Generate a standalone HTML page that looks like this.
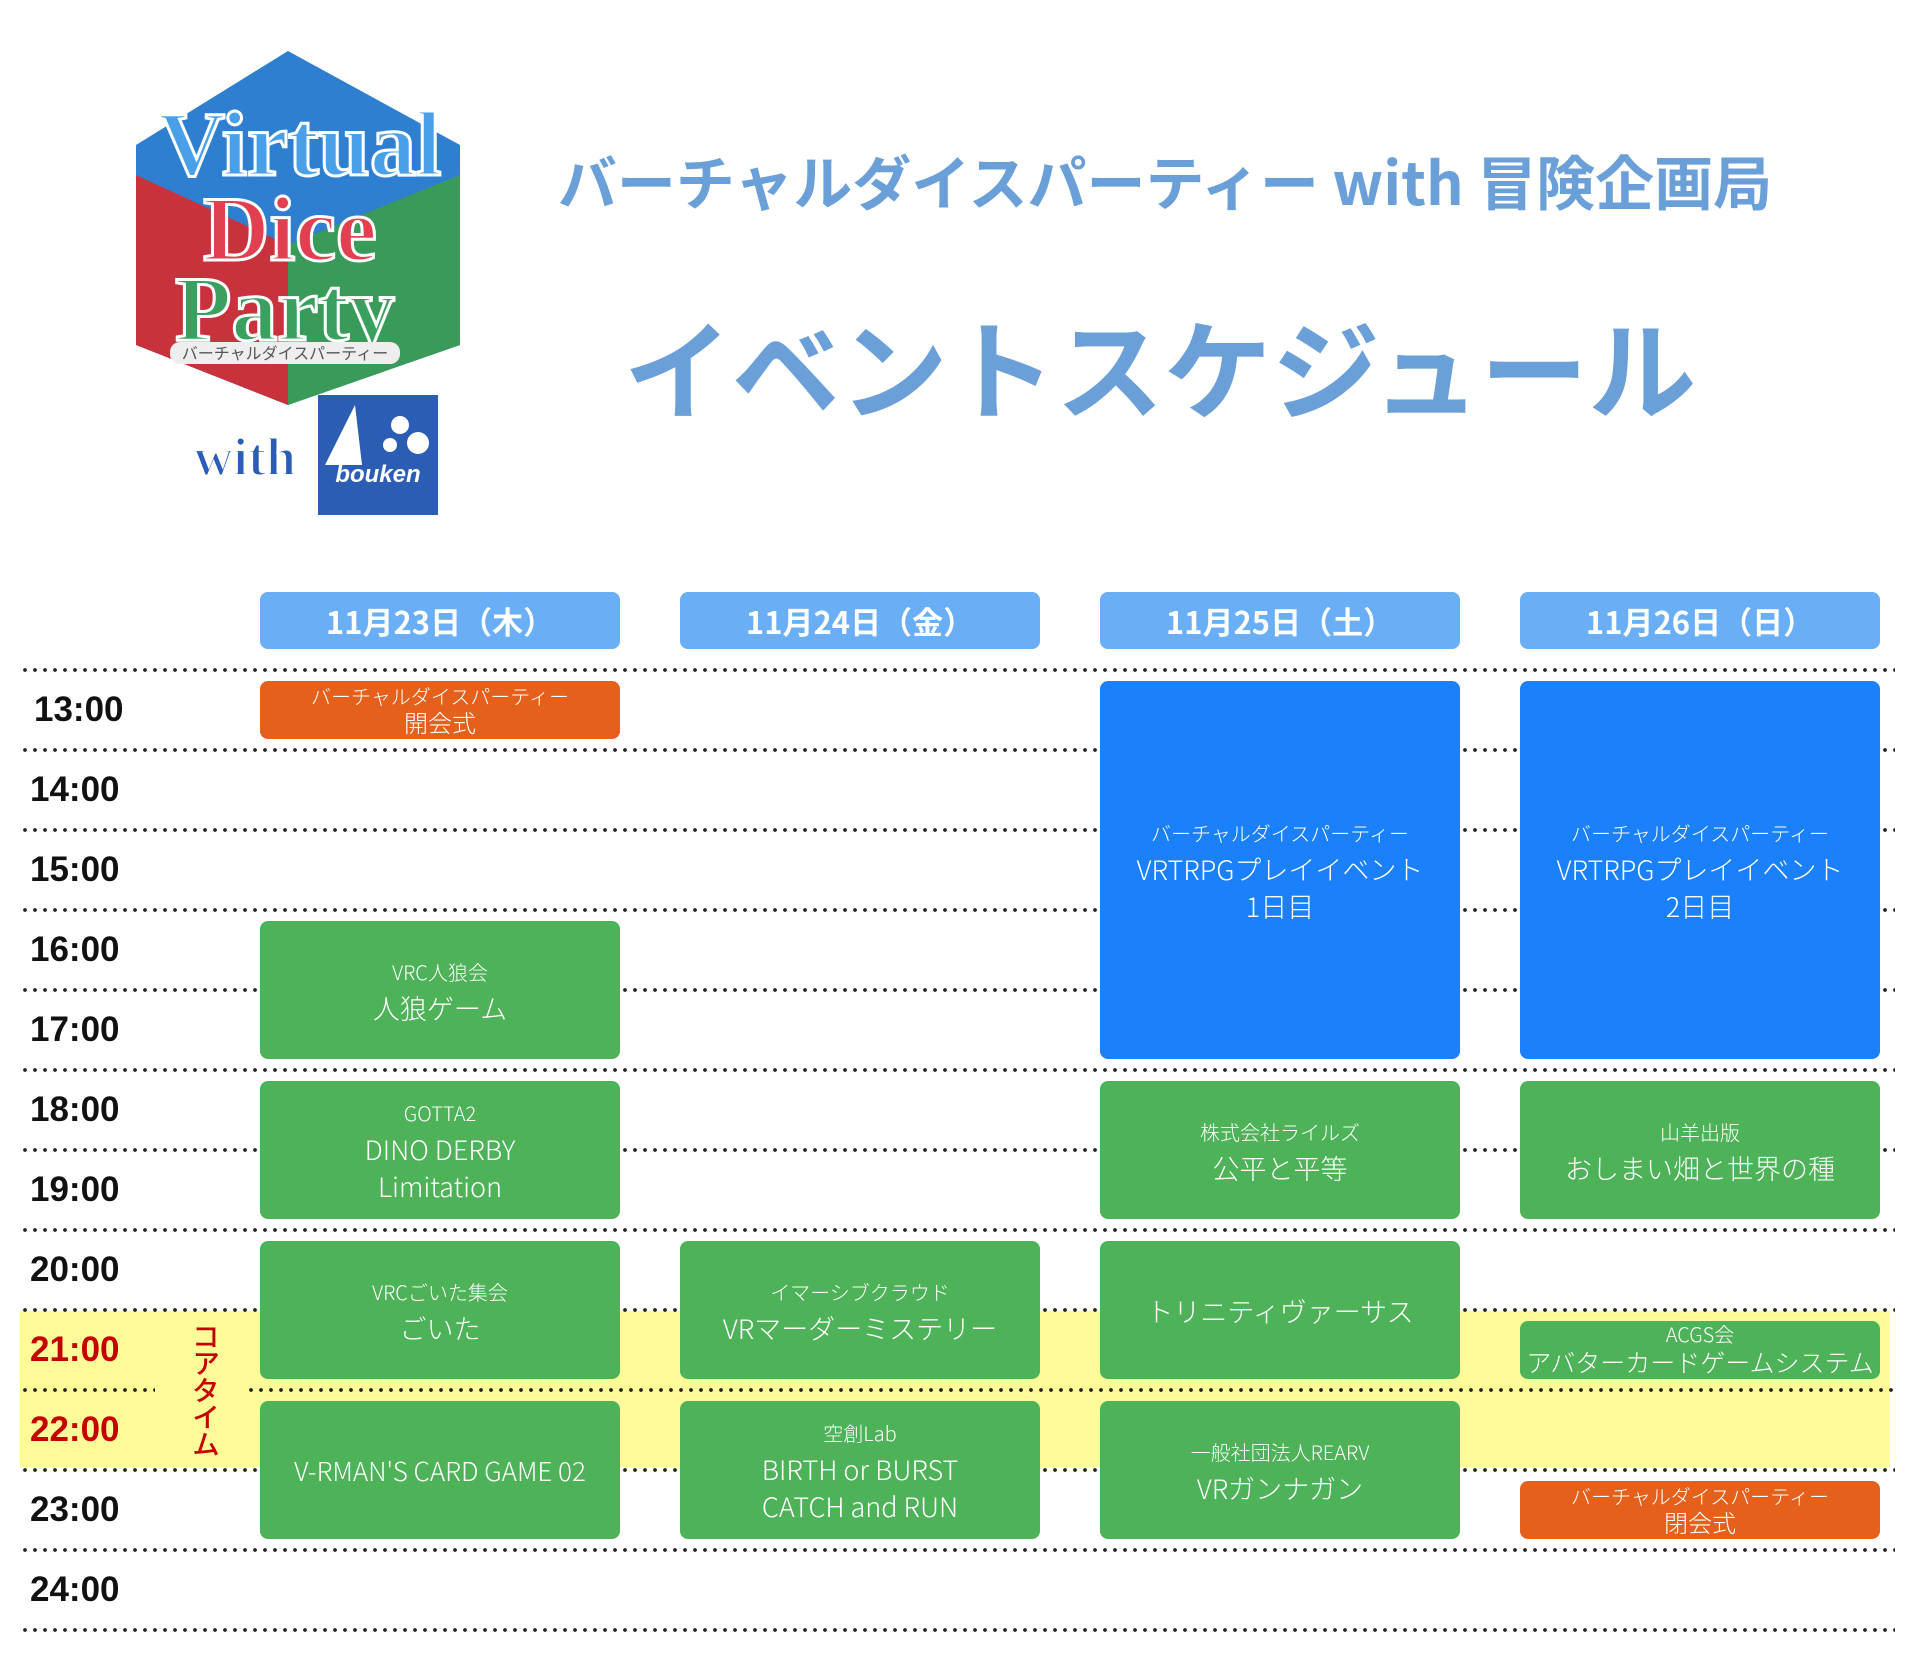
<!DOCTYPE html>
<html><head><meta charset="utf-8">
<style>
*{margin:0;padding:0;box-sizing:border-box}
body{width:1920px;height:1670px;background:#fff;position:relative;overflow:hidden;font-family:"Liberation Sans","Noto Sans CJK JP",sans-serif}
.abs{position:absolute}
.dot{position:absolute;left:20px;width:1875px;height:4px;background:radial-gradient(circle,#222 1.6px,transparent 2.2px) 0 0/10px 4px repeat-x}
.t{position:absolute;left:30px;width:140px;font-weight:bold;font-size:35px;color:#111;line-height:80px}
.h{position:absolute;top:592px;height:57px;width:360px;background:#6aaef6;border-radius:8px;color:#fff;font-weight:bold;font-size:31px;text-align:center;line-height:57px;font-family:"Noto Sans CJK JP",sans-serif}
.e{position:absolute;width:360px;border-radius:8px;color:#fff;display:flex;flex-direction:column;align-items:center;justify-content:center;text-align:center;font-family:"Noto Sans CJK JP",sans-serif;font-weight:300}
.g{background:#4db258}.o{background:#e4601b}.b{background:#1a80fb}
.s{font-size:20px;line-height:34px}.l{font-size:27px;line-height:37px}
</style></head><body>
<svg class="abs" style="left:100px;top:45px" width="380" height="480" viewBox="0 0 380 480">
<polygon points="188,6 360,100 360,300 188,360 36,300 36,100" fill="#2f7fd0"/>
<polygon points="36,130 188,200 188,360 36,300" fill="#c8323c"/>
<polygon points="188,200 360,130 360,300 188,360" fill="#3a9a5a"/>
<text x="200" y="130" font-family="Liberation Serif,serif" font-weight="bold" font-size="92" fill="#4aa0e8" stroke="#fff" stroke-width="3" text-anchor="middle">Virtual</text>
<text x="190" y="215" font-family="Liberation Serif,serif" font-weight="bold" font-size="92" fill="#e04050" stroke="#fff" stroke-width="3" text-anchor="middle">Dice</text>
<text x="185" y="295" font-family="Liberation Serif,serif" font-weight="bold" font-size="92" fill="#3aa060" stroke="#fff" stroke-width="3" text-anchor="middle">Party</text>
<rect x="70" y="297" width="230" height="22" rx="10" fill="#eee"/>
<text x="185" y="314" font-family="Noto Sans CJK JP,sans-serif" font-size="16" fill="#555" text-anchor="middle">バーチャルダイスパーティー</text>
<text x="145" y="430" font-family="Liberation Serif,serif" font-weight="bold" font-size="54" fill="#2a5cb8" stroke="#fff" stroke-width="2" text-anchor="middle">with</text>
<rect x="218" y="350" width="120" height="120" fill="#2b5db5"/>
<polygon points="225,420 255,360 262,420" fill="#fff"/>
<circle cx="300" cy="380" r="9" fill="#fff"/><circle cx="318" cy="398" r="11" fill="#fff"/><circle cx="290" cy="400" r="7" fill="#fff"/>
<text x="278" y="437" font-family="Liberation Sans,sans-serif" font-style="italic" font-weight="bold" font-size="24" fill="#fff" text-anchor="middle">bouken</text>
</svg>
<div class="abs" style="left:515px;top:143px;width:1300px;text-align:center;font-size:59px;font-weight:bold;color:#6a9fd8;font-family:'Noto Sans CJK JP',sans-serif;line-height:74px;white-space:nowrap">バーチャルダイスパーティー with 冒険企画局</div>
<div class="abs" style="left:560px;top:295px;width:1200px;text-align:center;font-size:108px;font-weight:bold;color:#6a9fd8;font-family:'Noto Sans CJK JP',sans-serif;line-height:140px;white-space:nowrap">イベントスケジュール</div>

<div class="abs" style="left:20px;top:1311px;width:1870px;height:156px;background:#fdfc99"></div>

<div class="dot" style="top:668px"></div><div class="dot" style="top:748px"></div>
<div class="dot" style="top:828px"></div><div class="dot" style="top:908px"></div>
<div class="dot" style="top:988px"></div><div class="dot" style="top:1068px"></div>
<div class="dot" style="top:1148px"></div><div class="dot" style="top:1228px"></div>
<div class="dot" style="top:1308px"></div>
<div class="dot" style="top:1388px;width:135px"></div>
<div class="dot" style="top:1388px;left:246px;width:1649px"></div>
<div class="dot" style="top:1468px"></div><div class="dot" style="top:1548px"></div>
<div class="dot" style="top:1628px"></div>

<div class="t" style="top:670px;left:34px">13:00</div>
<div class="t" style="top:750px">14:00</div>
<div class="t" style="top:830px">15:00</div>
<div class="t" style="top:910px">16:00</div>
<div class="t" style="top:990px">17:00</div>
<div class="t" style="top:1070px">18:00</div>
<div class="t" style="top:1150px">19:00</div>
<div class="t" style="top:1230px">20:00</div>
<div class="t" style="top:1310px;color:#c40000">21:00</div>
<div class="t" style="top:1390px;color:#c40000">22:00</div>
<div class="t" style="top:1470px">23:00</div>
<div class="t" style="top:1550px">24:00</div>
<div class="abs" style="left:186px;top:1322px;writing-mode:vertical-rl;font-size:28px;color:#c40000;font-family:'Noto Sans CJK JP',sans-serif;font-weight:500;letter-spacing:-1px">コアタイム</div>

<div class="h" style="left:260px">11月23日（木）</div>
<div class="h" style="left:680px">11月24日（金）</div>
<div class="h" style="left:1100px">11月25日（土）</div>
<div class="h" style="left:1520px">11月26日（日）</div>

<div class="e o" style="left:260px;top:681px;height:58px"><div style="font-size:20px;line-height:24px">バーチャルダイスパーティー</div><div style="font-size:24px;line-height:28px">開会式</div></div>
<div class="e g" style="left:260px;top:921px;height:138px"><div class="s">VRC人狼会</div><div class="l">人狼ゲーム</div></div>
<div class="e g" style="left:260px;top:1081px;height:138px"><div class="s">GOTTA2</div><div class="l">DINO DERBY</div><div class="l">Limitation</div></div>
<div class="e g" style="left:260px;top:1241px;height:138px"><div class="s">VRCごいた集会</div><div class="l">ごいた</div></div>
<div class="e g" style="left:260px;top:1401px;height:138px"><div class="l" style="font-size:26px">V-RMAN'S CARD GAME 02</div></div>
<div class="e g" style="left:680px;top:1241px;height:138px"><div class="s">イマーシブクラウド</div><div class="l">VRマーダーミステリー</div></div>
<div class="e g" style="left:680px;top:1401px;height:138px"><div class="s">空創Lab</div><div class="l">BIRTH or BURST</div><div class="l">CATCH and RUN</div></div>
<div class="e b" style="left:1100px;top:681px;height:378px"><div class="s">バーチャルダイスパーティー</div><div class="l">VRTRPGプレイイベント</div><div class="l">1日目</div></div>
<div class="e g" style="left:1100px;top:1081px;height:138px"><div class="s">株式会社ライルズ</div><div class="l">公平と平等</div></div>
<div class="e g" style="left:1100px;top:1241px;height:138px"><div class="l">トリニティヴァーサス</div></div>
<div class="e g" style="left:1100px;top:1401px;height:138px"><div class="s">一般社団法人REARV</div><div class="l">VRガンナガン</div></div>
<div class="e b" style="left:1520px;top:681px;height:378px"><div class="s">バーチャルダイスパーティー</div><div class="l">VRTRPGプレイイベント</div><div class="l">2日目</div></div>
<div class="e g" style="left:1520px;top:1081px;height:138px"><div class="s">山羊出版</div><div class="l">おしまい畑と世界の種</div></div>
<div class="e g" style="left:1520px;top:1321px;height:58px"><div style="font-size:20px;line-height:24px">ACGS会</div><div style="font-size:25px;line-height:32px">アバターカードゲームシステム</div></div>
<div class="e o" style="left:1520px;top:1481px;height:58px"><div style="font-size:20px;line-height:24px">バーチャルダイスパーティー</div><div style="font-size:24px;line-height:28px">閉会式</div></div>
</body></html>
